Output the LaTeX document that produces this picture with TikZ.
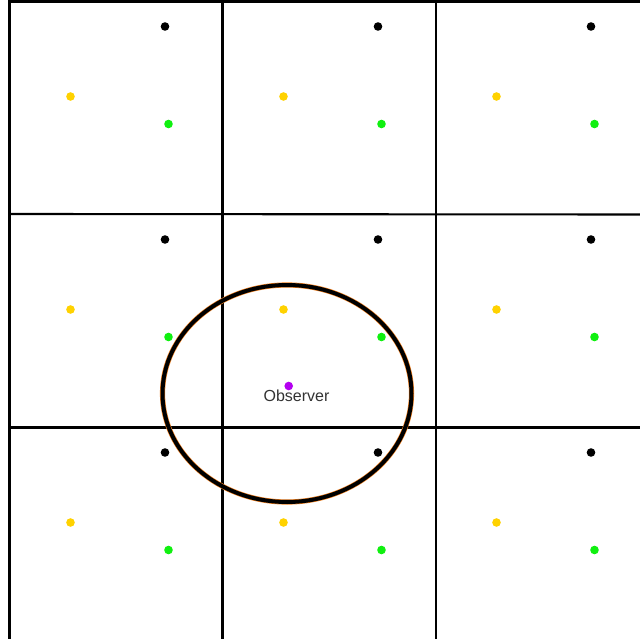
\documentclass[tikz,border=0pt]{standalone}
\usepackage{fontspec}
\newfontfamily\labelfont{Liberation Sans}
\definecolor{dotyellow}{HTML}{FFD200}
\definecolor{dotgreen}{HTML}{10F010}
\definecolor{dotpurple}{HTML}{B400F0}
\definecolor{ringorange}{HTML}{F08020}
\definecolor{labelgray}{HTML}{333333}
\tikzset{
  gridline/.style={draw=black,line width=2.1pt},
  dotblack/.style={circle,fill=black,inner sep=0pt,minimum size=8.6pt},
  dotyel/.style={circle,fill=dotyellow,inner sep=0pt,minimum size=8.6pt},
  dotgrn/.style={circle,fill=dotgreen,inner sep=0pt,minimum size=8.6pt},
  dotobs/.style={circle,fill=dotpurple,inner sep=0pt,minimum size=8.6pt},
}
\begin{document}
\begin{tikzpicture}[x=1pt,y=-1pt]
\useasboundingbox[fill=white] (0,0) rectangle (640,639);
% grid
\draw[gridline] (9.5,639) -- (9.5,1.5) -- (640,1.5);
\draw[gridline] (222.5,1.5) -- (222.5,639);
\draw[gridline] (436,1.5) -- (436,639);
\draw[gridline] (9.5,214) -- (640,214.5);
\draw[gridline] (9.5,427.5) -- (640,427.5);
% dots
\foreach \cx/\i in {0/1,213/2,426/3}{
  \foreach \cy/\j in {0/1,213/2,426/3}{
    \node[dotblack] (k\i\j) at (165+\cx,26.5+\cy) {};
    \node[dotyel] (y\i\j) at (70.5+\cx,96.5+\cy) {};
    \node[dotgrn] (g\i\j) at (168.5+\cx,124+\cy) {};
  }
}
% observer ring
\draw[ringorange,line width=5.2pt] (287,393.5) ellipse [x radius=124.5, y radius=108.5];
\draw[black,line width=4pt] (287,393.5) ellipse [x radius=124.5, y radius=108.5];
\node[dotobs] (obs) at (288.7,386) {};
\node[font=\labelfont\fontsize{16}{18}\selectfont,text=labelgray,inner sep=0pt] (obslabel) at (296.5,396) {Observer};
\end{tikzpicture}
\end{document}
